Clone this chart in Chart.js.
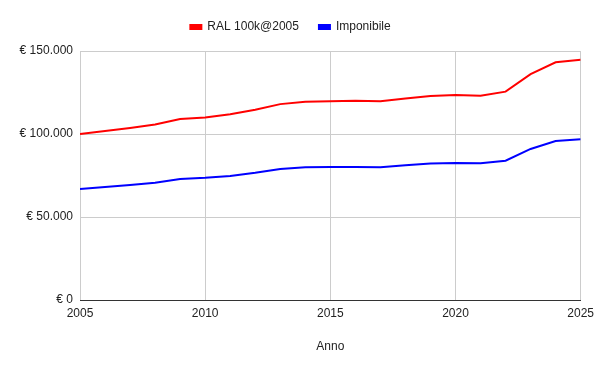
<!DOCTYPE html>
<html>
<head>
<meta charset="utf-8">
<script src="https://cdn.jsdelivr.net/npm/chart.js@4"></script>
<style>
  html, body { margin: 0; padding: 0; background: #fff; }
  #wrap { width: 600px; height: 371px; }
</style>
</head>
<body>
<div id="wrap"><canvas id="myChart" width="600" height="371"></canvas></div>
<script>
const anni = [2005, 2006, 2007, 2008, 2009, 2010, 2011, 2012, 2013, 2014, 2015,
  2016, 2017, 2018, 2019, 2020, 2021, 2022, 2023, 2024, 2025];
const ral = [100000, 101800, 103600, 105700, 109000, 110000, 111900, 114600, 118000, 119500, 119800,
  120000, 119800, 121400, 122900, 123500, 123100, 125500, 136100, 143200, 144700];
const imponibile = [66900, 68000, 69300, 70700, 72900, 73600, 74700, 76600, 78900, 79900, 80100,
  80100, 80000, 81200, 82300, 82600, 82400, 83900, 91000, 95800, 96800];
const yTicks = [0, 50000, 100000, 150000];

const euro = (v) => "€ " + String(v).replace(/\B(?=(\d{3})+(?!\d))/g, ".");
const font = { family: "'Liberation Sans', Arial, sans-serif", size: 12 };

Chart.defaults.font = font;
Chart.defaults.color = "#222";

// un po' di spazio in più sotto la legenda
const legendSpacing = {
  id: "legendSpacing",
  afterInit(chart) {
    const fit = chart.legend.fit;
    chart.legend.fit = function () {
      fit.call(this);
      this.height += 8;
    };
  },
};

new Chart("myChart", {
  type: "line",
  data: {
    datasets: [
      {
        label: "RAL 100k@2005",
        data: anni.map((a, i) => ({ x: a, y: ral[i] })),
        borderColor: "#ff0000",
        backgroundColor: "#ff0000",
        borderWidth: 2,
        pointRadius: 0,
        tension: 0,
      },
      {
        label: "Imponibile",
        data: anni.map((a, i) => ({ x: a, y: imponibile[i] })),
        borderColor: "#0000ff",
        backgroundColor: "#0000ff",
        borderWidth: 2,
        pointRadius: 0,
        tension: 0,
      },
    ],
  },
  plugins: [legendSpacing],
  options: {
    responsive: false,
    animation: false,
    layout: { padding: { top: 1, right: 19, left: 0, bottom: 0 } },
    plugins: {
      legend: {
        position: "top",
        labels: { boxWidth: 11, boxHeight: 4, padding: 20, font: font },
      },
      tooltip: { enabled: false },
    },
    scales: {
      x: {
        type: "linear",
        min: 2005,
        max: 2025,
        afterFit: (s) => { s.height = 71; },
        ticks: { stepSize: 5, padding: 6, callback: (v) => String(v) },
        grid: { color: "#cccccc", drawTicks: false },
        border: { color: "#333333", width: 1 },
        title: { display: true, text: "Anno", padding: { top: 4, bottom: 17 }, font: font },
      },
      y: {
        min: 0,
        max: 150000,
        afterFit: (s) => { s.width = 80; },
        afterBuildTicks: (s) => { s.ticks = yTicks.map((v) => ({ value: v })); },
        ticks: { padding: 7, callback: (v) => euro(v) },
        grid: { color: "#cccccc", drawTicks: false },
        border: { display: false },
      },
    },
  },
});
</script>
</body>
</html>
